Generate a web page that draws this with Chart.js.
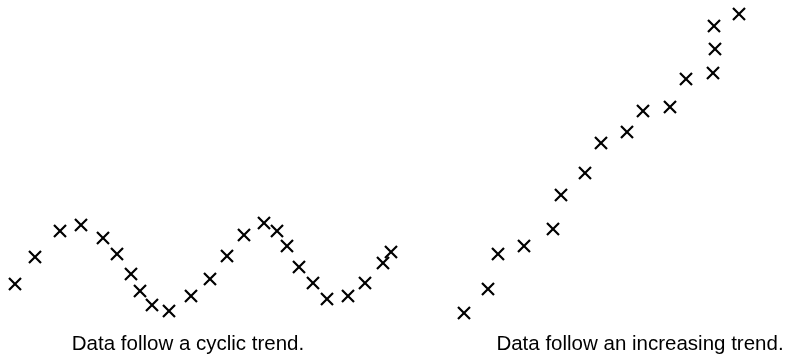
<!DOCTYPE html>
<html>
<head>
<meta charset="utf-8">
<script src="https://cdn.jsdelivr.net/npm/chart.js@4"></script>
<style>
  html, body { margin: 0; padding: 0; background: #fff; }
  #wrap { position: relative; width: 786px; height: 357px; overflow: hidden; }
  canvas { position: absolute; left: 0; top: 0; }
  .caption {
    position: absolute; top: 333px; font: 20.5px/1 "Liberation Sans", Arial, sans-serif;
    color: #000; white-space: nowrap; transform: translateX(-50%);
  }
</style>
</head>
<body>
<div id="wrap">
  <canvas id="chart" width="786" height="357"></canvas>
  <div class="caption" style="left:188px">Data follow a cyclic trend.</div>
  <div class="caption" style="left:640px">Data follow an increasing trend.</div>
</div>
<script>
// Cyclic series (left panel)
const cyclicX = [15, 35, 60, 81, 103, 117, 131, 140, 152, 169, 191, 210, 227, 244, 264, 277, 287, 299, 313, 327, 348, 365, 383, 391];
const cyclicY = [73, 100, 126, 132, 119, 103, 83, 66, 52, 46, 61, 78, 101, 122, 134, 126, 111, 90, 74, 58, 61, 74, 94, 105];

// Increasing series (right panel)
const trendX = [464, 488, 498, 524, 553, 561, 585, 601, 627, 643, 670, 686, 713, 715, 714, 739];
const trendY = [44, 68, 103, 111, 128, 162, 184, 214, 225, 246, 250, 278, 284, 308, 331, 343];

function toPoints(xs, ys) {
  return xs.map((x, i) => ({ x: x, y: ys[i] }));
}

const markerStyle = {
  pointStyle: "crossRot",
  pointRadius: 8.5,
  pointHoverRadius: 8.5,
  borderColor: "#000",
  backgroundColor: "#000",
  borderWidth: 2.2,
  showLine: false,
  clip: false
};

new Chart(document.getElementById("chart"), {
  type: "scatter",
  data: {
    datasets: [
      Object.assign({ label: "Cyclic", data: toPoints(cyclicX, cyclicY) }, markerStyle),
      Object.assign({ label: "Increasing", data: toPoints(trendX, trendY) }, markerStyle)
    ]
  },
  options: {
    responsive: false,
    animation: false,
    layout: { padding: 0, autoPadding: false },
    plugins: { legend: { display: false }, tooltip: { enabled: false } },
    scales: {
      x: { type: "linear", min: 0, max: 786, display: false },
      y: { type: "linear", min: 0, max: 357, display: false }
    }
  }
});
</script>
</body>
</html>
